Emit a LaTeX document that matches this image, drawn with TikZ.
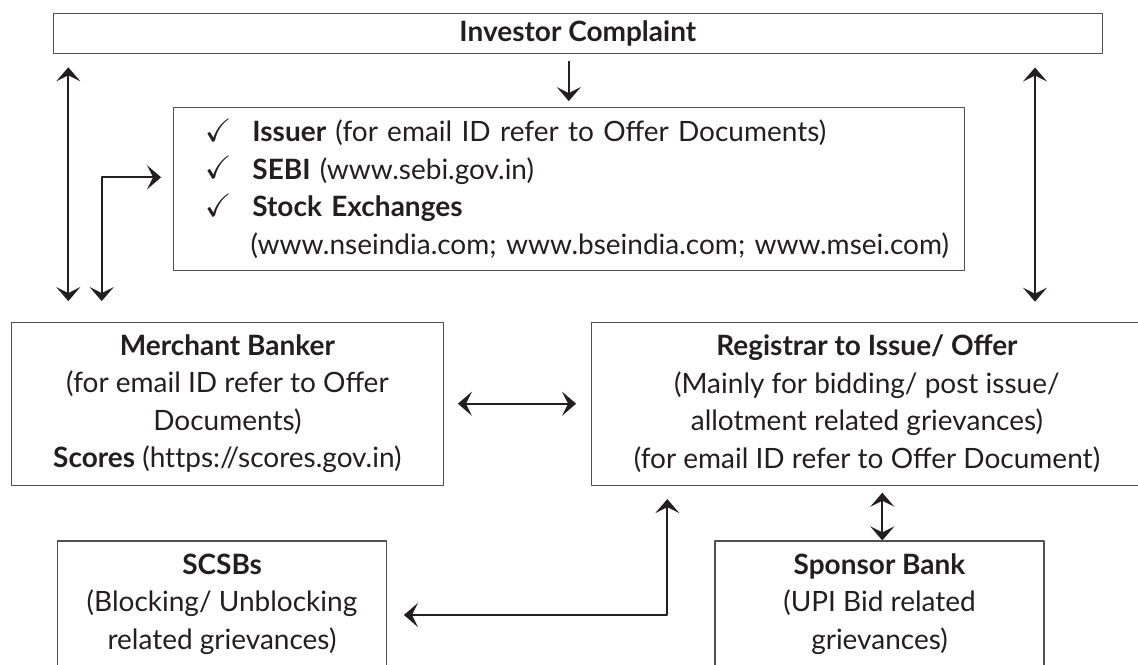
\documentclass[tikz,border=0pt]{standalone}
\usepackage{fontspec}
\usepackage{amssymb}
\setmainfont{Lato}
\usetikzlibrary{arrows.meta}
\definecolor{ink}{HTML}{231F20}
\definecolor{frame}{HTML}{505050}
\newcommand{\tickitem}{\hspace*{8pt}\makebox[23.8pt][l]{\raisebox{0.3pt}{\scalebox{1.15}{$\checkmark$}}}}
\frenchspacing
\begin{document}
\begin{tikzpicture}[x=0.5pt, y=-0.5pt, line join=round, font=\fontsize{14}{18.75}\selectfont, text=ink,
    >={Stealth[length=7pt, width=12pt, inset=3pt]}]
    \tikzset{box/.style={draw=frame, line width=0.6pt, rectangle, inner sep=0pt, align=center},
      link/.style={<->, draw=ink, line width=1pt}}
    \useasboundingbox (0,0) rectangle (1138,664);
    \clip (0,0) rectangle (1138,664);
    % boxes
    \node[box, minimum width=524.5pt, minimum height=20pt] (inv) at (577.8,33.3) {\textbf{Investor Complaint}};
    \node[box, minimum width=395.5pt, minimum height=81.4pt, text width=380pt, inner xsep=7.75pt, align=left] (list) at (568.8,188.7)
      {\tickitem\textbf{Issuer} (for email ID refer to Offer Documents)\\
       \tickitem\textbf{SEBI} (www.sebi.gov.in)\\
       \tickitem\textbf{Stock Exchanges}\\
       \hspace*{30.9pt}(www.nseindia.com; www.bseindia.com; www.msei.com)};
    \node[box, minimum width=215.9pt, minimum height=81.4pt] (merch) at (227.4,403.7)
      {\textbf{Merchant Banker}\\(for email ID refer to Offer\\Documents)\\\textbf{Scores} (ht\kern0pt tps://scores.gov.in)};
    \node[box, minimum width=275.2pt, minimum height=81.4pt] (reg) at (866.9,403.7)
      {\textbf{Registrar to Issue/ Offer}\\(Mainly for bidding/ post issue/\\allotment related grievances)\\(for email ID refer to Offer Document)};
    \node[box, minimum width=164.7pt, minimum height=63pt] (scsb) at (222,604)
      {\textbf{SCSBs}\\(Blocking/ Unblocking\\related grievances)};
    \node[box, minimum width=164.5pt, minimum height=63pt] (spon) at (879.5,604)
      {\textbf{Sponsor Bank}\\(UPI Bid related\\grievances)};
    % connectors
    \coordinate (lx) at (68.3,0);
    \coordinate (rx) at (1035,0);
    \coordinate (sx) at (882.3,0);
    \coordinate (lbend) at (101.7,177.3);
    \coordinate (bbend) at (667.3,615);
    \draw[link, <-, shorten >=3.7pt, shorten <=2.8pt] (list.north) -- (inv.south -| list.north);
    \draw[link, shorten <=6.7pt, shorten >=10.3pt] (inv.south -| lx) -- (merch.north -| lx);
    \draw[link, shorten <=6.8pt, shorten >=10pt] (inv.south -| rx) -- (reg.north -| rx);
    \draw[link, shorten <=10.3pt, shorten >=5.8pt] (merch.north -| lbend) -- (lbend) -- (list.west |- lbend);
    \draw[link, shorten <=7pt, shorten >=7.5pt] (merch.east) -- (reg.west);
    \draw[link, shorten <=3.5pt] (reg.south -| sx) -- (spon.north -| sx);
    \draw[link, shorten <=6.7pt, shorten >=8.3pt] (reg.south -| bbend) -- (bbend) -- (scsb.east |- bbend);
\end{tikzpicture}
\end{document}
